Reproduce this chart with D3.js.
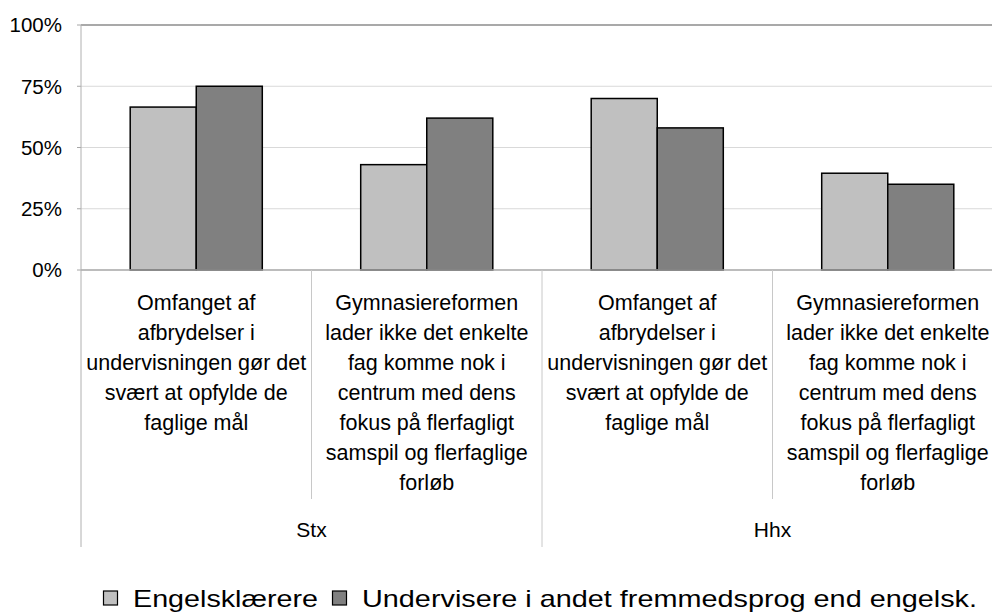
<!DOCTYPE html>
<html>
<head>
<meta charset="utf-8">
<script src="https://cdn.jsdelivr.net/npm/d3@7"></script>
<style>
  body { margin: 0; background: #fff; }
  svg { display: block; font-family: "Liberation Sans", Arial, sans-serif; }
</style>
</head>
<body>
<div id="chart"></div>
<script>
const groups = ['Stx', 'Hhx'];
const subLabels = [
  ['Omfanget af', 'afbrydelser i', 'undervisningen gør det', 'svært at opfylde de', 'faglige mål'],
  ['Gymnasiereformen', 'lader ikke det enkelte', 'fag komme nok i', 'centrum med dens', 'fokus på flerfagligt', 'samspil og flerfaglige', 'forløb']
];
const seriesNames = ['Engelsklærere', 'Undervisere i andet fremmedsprog end engelsk.'];
const engelskValues = [66.5, 43, 70, 39.5];
const andetValues = [75, 62, 58, 35];
const yTicks = [0, 25, 50, 75, 100];

const COLORS = ['#c0c0c0', '#808080'];

const width = 992, height = 614;
const margin = { top: 25, left: 81, right: -11, bottom: 344 };
const plotBottom = height - margin.bottom; // 270
const plotRight = width - margin.right;

// flatten categories: group x sub
const cats = [];
groups.forEach((g, gi) => subLabels.forEach((s, si) => cats.push({ group: g, gi, si, lines: s })));
const data = cats.map((c, i) => ({ ...c, i, values: [engelskValues[i], andetValues[i]] }));

const svg = d3.select('#chart').append('svg')
  .attr('width', width)
  .attr('height', height);

const x0 = d3.scaleBand()
  .domain(d3.range(cats.length))
  .range([margin.left, plotRight])
  .paddingInner(0).paddingOuter(0);

const x1 = d3.scaleBand()
  .domain([0, 1])
  .range([0, x0.bandwidth()])
  .paddingInner(0)
  .paddingOuter(0.745);

const xg = d3.scaleBand()
  .domain(groups)
  .range([margin.left, plotRight]);

const y = d3.scaleLinear().domain([0, 100]).range([plotBottom, margin.top]);

// gridlines
svg.append('g')
  .selectAll('line')
  .data(yTicks.filter(t => t > 0 && t < 100))
  .join('line')
  .attr('x1', margin.left).attr('x2', plotRight)
  .attr('y1', d => y(d)).attr('y2', d => y(d))
  .attr('stroke', '#d9d9d9').attr('stroke-width', 1);

// top border
svg.append('line')
  .attr('x1', margin.left).attr('x2', plotRight)
  .attr('y1', y(100)).attr('y2', y(100))
  .attr('stroke', '#8c8c8c').attr('stroke-width', 1.5);

// y axis labels + ticks
const yAxis = svg.append('g');
yAxis.selectAll('text')
  .data(yTicks)
  .join('text')
  .attr('x', 62)
  .attr('y', d => y(d))
  .attr('dy', '0.36em')
  .attr('text-anchor', 'end')
  .attr('font-size', '20.5px')
  .attr('fill', '#000')
  .text(d => d + '%');
yAxis.selectAll('line')
  .data(yTicks)
  .join('line')
  .attr('x1', margin.left - 4).attr('x2', margin.left)
  .attr('y1', d => y(d)).attr('y2', d => y(d))
  .attr('stroke', '#a6a6a6');

// bars
const barG = svg.append('g')
  .selectAll('g')
  .data(data)
  .join('g')
  .attr('transform', d => `translate(${x0(d.i)},0)`);

barG.selectAll('rect')
  .data(d => d.values.map((v, k) => ({ v, k })))
  .join('rect')
  .attr('x', d => x1(d.k))
  .attr('width', x1.bandwidth())
  .attr('y', d => y(d.v))
  .attr('height', d => plotBottom - y(d.v))
  .attr('fill', d => COLORS[d.k])
  .attr('stroke', '#000')
  .attr('stroke-width', 1.5);

// baseline
svg.append('line')
  .attr('x1', margin.left).attr('x2', plotRight)
  .attr('y1', plotBottom).attr('y2', plotBottom)
  .attr('stroke', '#a6a6a6').attr('stroke-width', 1.5);

// left axis line (extends through category area)
svg.append('line')
  .attr('x1', margin.left).attr('x2', margin.left)
  .attr('y1', margin.top).attr('y2', 547)
  .attr('stroke', '#b0b0b0').attr('stroke-width', 1);

// separators between subcategories (short) and groups (long)
const sepG = svg.append('g');
d3.range(1, cats.length + 1).forEach(i => {
  const xs = x0(i - 1) + x0.bandwidth();
  const isGroupEdge = i % subLabels.length === 0;
  sepG.append('line')
    .attr('x1', xs).attr('x2', xs)
    .attr('y1', plotBottom).attr('y2', isGroupEdge ? 547 : 499)
    .attr('stroke', '#c8c8c8').attr('stroke-width', 1);
});

// category labels
const catText = svg.append('g')
  .selectAll('text')
  .data(data)
  .join('text')
  .attr('text-anchor', 'middle')
  .attr('font-size', '21.5px')
  .attr('fill', '#000');
catText.selectAll('tspan')
  .data(d => d.lines.map((l, li) => ({ l, li, cx: x0(d.i) + x0.bandwidth() / 2 })))
  .join('tspan')
  .attr('x', d => d.cx)
  .attr('y', d => 302 + d.li * 30)
  .attr('dy', '0.36em')
  .text(d => d.l);

// group labels
svg.append('g')
  .selectAll('text')
  .data(groups)
  .join('text')
  .attr('x', d => xg(d) + xg.bandwidth() / 2)
  .attr('y', 529)
  .attr('dy', '0.36em')
  .attr('text-anchor', 'middle')
  .attr('font-size', '21px')
  .text(d => d);

// legend (text stretched like the original rendering)
const legendWidths = [185, 615];
const legend = svg.append('g').attr('transform', 'translate(103, 598)');
let lx = 0;
seriesNames.forEach((name, k) => {
  const g = legend.append('g').attr('transform', `translate(${lx},0)`);
  g.append('rect')
    .attr('x', 0.5).attr('y', -7)
    .attr('width', 14).attr('height', 14)
    .attr('fill', COLORS[k])
    .attr('stroke', '#000').attr('stroke-width', 1.2);
  g.append('text')
    .attr('x', 30).attr('y', 9)
    .attr('font-size', '24px')
    .attr('textLength', legendWidths[k])
    .attr('lengthAdjust', 'spacingAndGlyphs')
    .text(name);
  lx += 30 + legendWidths[k] + 14;
});
</script>
</body>
</html>
